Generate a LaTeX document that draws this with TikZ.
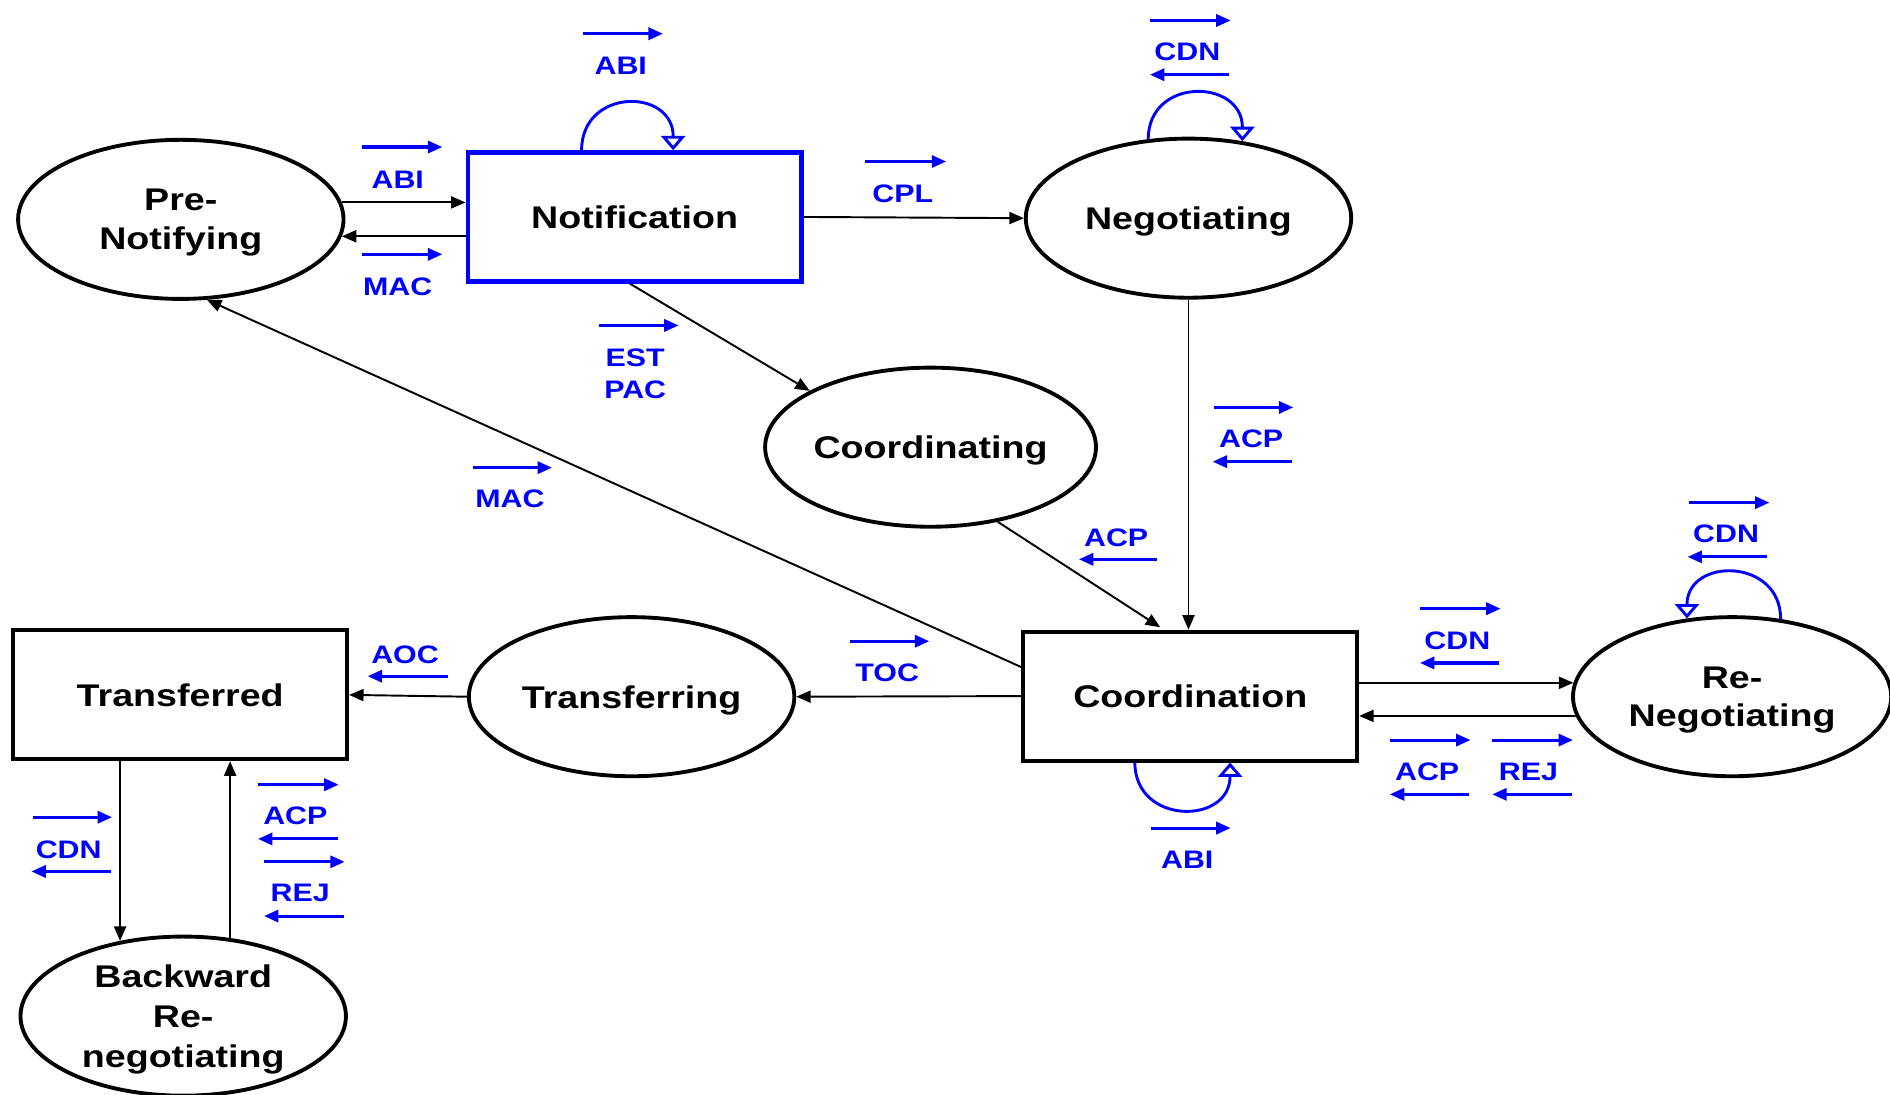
\documentclass[tikz,border=0pt]{standalone}
\usepackage{fontspec}
\setmainfont{Liberation Sans}[FakeStretch=1.2]
\usetikzlibrary{arrows.meta,shapes.geometric,calc}
\definecolor{pblue}{RGB}{0,0,255}
\begin{document}
\begin{tikzpicture}[x=0.5pt,y=-0.5pt,
  st/.style={draw,line width=1.6pt,font=\bfseries\fontsize{13}{16}\selectfont,align=center,inner sep=0pt},
  ell/.style={st,ellipse,minimum width=135pt,minimum height=66pt,text depth=0pt},
  box/.style={st,rectangle,minimum width=138.5pt,minimum height=53.5pt},
  conn/.style={line width=0.8pt,-{Triangle[length=6pt,width=5pt]}},
  selfloop/.style={pblue,line width=1.2pt,-{Triangle[open,length=6pt,width=10pt]}},
  marr/.style={pblue,line width=1.3pt,-{Triangle[length=6pt,width=5pt]}},
  msg/.style={text=pblue,font=\bfseries\fontsize{10.5}{13}\selectfont,inner sep=0pt,align=center}
]
\useasboundingbox (0,0) rectangle (1568,908);

% states
\node[ell] (pre) at (150,182) {Pre-\\Notifying};
\node[box,draw=pblue,line width=1.8pt] (notif) at (526.5,180) {Notification};
\node[ell] (neg) at (986,181) {Negotiating};
\node[ell] (cing) at (772,371) {Coordinating};
\node[box] (coord) at (987.5,577.5) {Coordination};
\node[ell,minimum width=132pt] (reneg) at (1437,578) {Re-\\Negotiating};
\node[ell] (tring) at (524,578) {Transferring};
\node[box] (tred) at (149.5,576.5) {Transferred};
\node[ell,font=\bfseries\fontsize{13}{16.5}\selectfont] (back) at (152,843) {Backward\\Re-\\negotiating};

% transitions
\draw[conn] (pre.6) -- (pre.6 -| notif.west);
\draw[conn] (pre.-6 -| notif.west) -- (pre.-6);
\draw[conn] (notif.east) -- (neg.west);
\draw[conn] ($(notif.south)+(-4,0)$) -- (cing.155);
\draw[conn] ($(coord.west)+(0,-24)$) -- (pre.-72);
\draw[conn] (neg.south) -- (neg.south |- coord.north);
\draw[conn] (cing.-48) -- ($(coord.north)+(-25,-2)$);
\draw[conn] (coord.west) -- (tring.east);
\draw[conn] (tring.west) -- (tred.east);
\draw[conn] (reneg.175 -| coord.east) -- (reneg.175);
\draw[conn] (reneg.187) -- (reneg.187 -| coord.east);
\draw[conn] (back.130 |- tred.south) -- (back.130);
\draw[conn] (back.59) -- (back.59 |- tred.south);

% self loops
\draw[selfloop] ($(notif.north)+(-44,0)$) .. controls +(0,-52) and +(0,-52) .. ($(notif.north)+(32,0)$);
\draw[selfloop] (neg.117) .. controls +(0,-52) and +(0,-52) .. (neg.55);
\draw[selfloop] (reneg.58) .. controls +(0,-51) and +(0,-51) .. (reneg.120);
\draw[selfloop] ($(coord.south)+(-46,0)$) .. controls +(0,52) and +(0,52) .. ($(coord.south)+(33,0)$);

% message labels
\node[msg] (m1) at (515,55) {ABI};
\draw[marr] (484,28) -- (550,28);
\node[msg] (m2) at (330,149) {ABI};
\draw[marr] (300,122) -- (367,122);
\node[msg] (m3) at (330,238) {MAC};
\draw[marr] (300,211) -- (367,211);
\node[msg] (m4) at (749,161) {CPL};
\draw[marr] (718,134) -- (785,134);
\node[msg] (m5) at (985,43) {CDN};
\draw[marr] (954,17) -- (1021,17);
\draw[marr] (1020,62) -- (954,62);
\node[msg] (m6) at (527,310) {EST\\PAC};
\draw[marr] (497,270) -- (563,270);
\node[msg] (m7) at (423,414) {MAC};
\draw[marr] (392,388) -- (458,388);
\node[msg] (m8) at (1038,364) {ACP};
\draw[marr] (1007,338) -- (1073,338);
\draw[marr] (1072,383) -- (1006,383);
\node[msg] (m9) at (926,446) {ACP};
\draw[marr] (960,464) -- (895,464);
\node[msg] (m10) at (1432,443) {CDN};
\draw[marr] (1401,417) -- (1468,417);
\draw[marr] (1466,462) -- (1400,462);
\node[msg] (m11) at (1209,532) {CDN};
\draw[marr] (1178,505) -- (1245,505);
\draw[marr] (1244,550) -- (1178,550);
\node[msg] (m12) at (1184,640) {ACP};
\draw[marr] (1153,614) -- (1220,614);
\draw[marr] (1219,659) -- (1153,659);
\node[msg] (m13) at (1268,640) {REJ};
\draw[marr] (1238,614) -- (1305,614);
\draw[marr] (1304,659) -- (1238,659);
\node[msg] (m14) at (985,713) {ABI};
\draw[marr] (955,687) -- (1021,687);
\node[msg] (m15) at (736,558) {TOC};
\draw[marr] (705,532) -- (771,532);
\node[msg] (m16) at (336,543) {AOC};
\draw[marr] (372,561) -- (305,561);
\node[msg] (m17) at (57,705) {CDN};
\draw[marr] (27,678) -- (93,678);
\draw[marr] (92,723) -- (26,723);
\node[msg] (m18) at (245,677) {ACP};
\draw[marr] (214,651) -- (281,651);
\draw[marr] (280,696) -- (214,696);
\node[msg] (m19) at (249,741) {REJ};
\draw[marr] (219,715) -- (286,715);
\draw[marr] (285,760) -- (219,760);
\end{tikzpicture}
\end{document}
